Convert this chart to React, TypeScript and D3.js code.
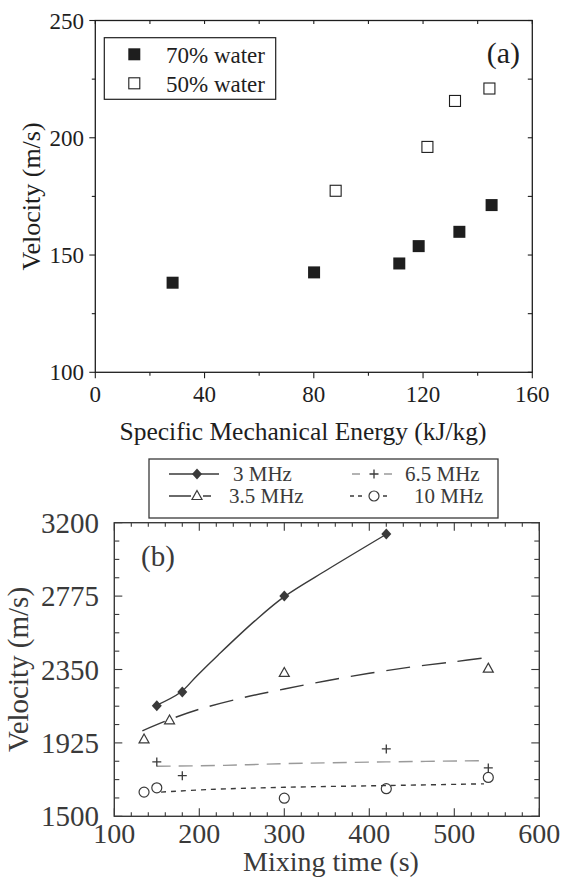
import React from "react";
import * as d3 from "d3";

// panel (a): velocity vs specific mechanical energy
const sme70 = [28.3, 80.1, 111.3, 118.4, 133.3, 145.1];
const vel70 = [138.2, 142.6, 146.4, 153.8, 159.9, 171.3];
const sme50 = [88.0, 121.6, 131.7, 144.3];
const vel50 = [177.4, 196.1, 215.7, 221.0];
const aXTicks = [0, 40, 80, 120, 160];
const aYTicks = [100, 150, 200, 250];

// panel (b): velocity vs mixing time, per frequency
const t3 = [150, 180, 300, 420];
const v3 = [2140, 2220, 2775, 3135];
const t35 = [135, 165, 300, 540];
const v35 = [1945, 2055, 2330, 2355];
const t65 = [150, 180, 420, 540];
const v65 = [1815, 1735, 1890, 1780];
const t10 = [135, 150, 300, 420, 540];
const v10 = [1640, 1665, 1605, 1660, 1725];

// fitted curves
const fit3T = [149, 178, 197, 222, 265, 300, 351, 420];
const fit3V = [2141, 2218, 2313, 2433, 2630, 2772, 2929, 3133];
const fit35T = [133, 165, 200, 250, 300, 350, 400, 450, 500, 540];
const fit35V = [1995, 2060, 2120, 2185, 2237, 2285, 2328, 2365, 2395, 2420];
const fit65T = [150, 230, 300, 420, 535];
const fit65V = [1790, 1795, 1805, 1815, 1822];
const fit10T = [155, 210, 300, 420, 535];
const fit10V = [1640, 1655, 1668, 1678, 1688];

const bXTicks = [100, 200, 300, 400, 500, 600];
const bYTicks = [1500, 1925, 2350, 2775, 3200];

const FONT = "'Liberation Serif', 'Times New Roman', Times, serif";
const INK_A = "#1e1e1e";
const INK_B = "#3a3a3a";

const zip = (xs: number[], ys: number[]) => xs.map((x, i) => [x, ys[i]] as [number, number]);

function PanelA() {
  const x = d3.scaleLinear().domain([0, 160]).range([95.3, 532.3]);
  const y = d3.scaleLinear().domain([100, 250]).range([372.3, 20.5]);
  const [x0, x1] = x.range();
  const [y0, y1] = y.range();
  const minorX = d3.range(0, 161, 20);
  const minorY = d3.range(100, 251, 25);
  const sq = 12;

  return (
    <g fontFamily={FONT} fill={INK_A}>
      <rect x={x0} y={y1} width={x1 - x0} height={y0 - y1} fill="none" stroke={INK_A} strokeWidth={1.3} />
      {minorX.map((v) => {
        const major = aXTicks.includes(v);
        return (
          <g key={"ax" + v} stroke={INK_A} strokeWidth={1.1}>
            <line x1={x(v)} x2={x(v)} y1={y0} y2={y0 + (major ? 6 : 3.5)} />
            <line x1={x(v)} x2={x(v)} y1={y1} y2={y1 + 3.5} />
          </g>
        );
      })}
      {minorY.map((v) => {
        const major = aYTicks.includes(v);
        return (
          <g key={"ay" + v} stroke={INK_A} strokeWidth={1.1}>
            <line x1={x0} x2={x0 - (major ? 6 : 3.5)} y1={y(v)} y2={y(v)} />
            <line x1={x1} x2={x1 - 4.5} y1={y(v)} y2={y(v)} />
          </g>
        );
      })}
      {aXTicks.map((v) => (
        <text key={"axl" + v} x={x(v)} y={401.5} fontSize={23} textAnchor="middle">{v}</text>
      ))}
      {aYTicks.map((v) => (
        <text key={"ayl" + v} x={84} y={y(v) + 8} fontSize={23} textAnchor="end">{v}</text>
      ))}
      <text x={303} y={440} fontSize={25.5} textAnchor="middle">Specific Mechanical Energy (kJ/kg)</text>
      <text transform={`translate(40,${(y0 + y1) / 2}) rotate(-90)`} fontSize={26} textAnchor="middle">Velocity (m/s)</text>
      <text x={520} y={63} fontSize={30} textAnchor="end">(a)</text>

      {zip(sme70, vel70).map(([a, b], i) => (
        <rect key={"f" + i} x={x(a) - sq / 2} y={y(b) - sq / 2} width={sq} height={sq} fill={INK_A} />
      ))}
      {zip(sme50, vel50).map(([a, b], i) => (
        <rect key={"o" + i} x={x(a) - sq / 2 + 0.5} y={y(b) - sq / 2 + 0.5} width={sq - 1} height={sq - 1} fill="#fff" stroke={INK_A} strokeWidth={1.1} />
      ))}

      <rect x={104.3} y={37.7} width={171.4} height={61.6} fill="#fff" stroke={INK_A} strokeWidth={1.2} />
      <rect x={134.3 - sq / 2} y={54.3 - sq / 2} width={sq} height={sq} fill={INK_A} />
      <rect x={134.3 - sq / 2 + 0.5} y={83.3 - sq / 2 + 0.5} width={sq - 1} height={sq - 1} fill="#fff" stroke={INK_A} strokeWidth={1.1} />
      <text x={166} y={62.5} fontSize={23}>70% water</text>
      <text x={166} y={91.5} fontSize={23}>50% water</text>
    </g>
  );
}

function Marker({ kind, cx, cy }: { kind: string; cx: number; cy: number }) {
  if (kind === "diamond") {
    return <path d={`M${cx},${cy - 5.5}L${cx + 5},${cy}L${cx},${cy + 5.5}L${cx - 5},${cy}Z`} fill={INK_B} />;
  }
  if (kind === "triangle") {
    return <path d={`M${cx},${cy - 5.5}L${cx + 5},${cy + 3.5}L${cx - 5},${cy + 3.5}Z`} fill="#fff" stroke={INK_B} strokeWidth={1.2} />;
  }
  if (kind === "plus") {
    return <path d={`M${cx - 4.5},${cy}H${cx + 4.5}M${cx},${cy - 4.5}V${cy + 4.5}`} stroke={INK_B} strokeWidth={1.3} fill="none" />;
  }
  return <circle cx={cx} cy={cy} r={5} fill="#fff" fillOpacity={0} stroke={INK_B} strokeWidth={1.2} />;
}

function PanelB() {
  const x = d3.scaleLinear().domain([100, 600]).range([114.3, 539.3]);
  const y = d3.scaleLinear().domain([1500, 3200]).range([816.3, 522.7]);
  const [x0, x1] = x.range();
  const [y0, y1] = y.range();
  const line = d3
    .line<[number, number]>()
    .x((d) => x(d[0]))
    .y((d) => y(d[1]))
    .curve(d3.curveCatmullRom.alpha(0.5));
  const minorX = d3.range(100, 601, 20);
  const minorY = d3.range(0, 17).map((i) => 1500 + i * 106.25);

  const series = [
    { label: "3 MHz", kind: "diamond", t: t3, v: v3, ft: fit3T, fv: fit3V, dash: "none", legDash: "none", color: INK_B },
    { label: "3.5 MHz", kind: "triangle", t: t35, v: v35, ft: fit35T, fv: fit35V, dash: "24,12", legDash: "22,12,8,100", color: INK_B },
    { label: "6.5 MHz", kind: "plus", t: t65, v: v65, ft: fit65T, fv: fit65V, dash: "14,8", legDash: "0,6,8,24,8,100", color: "#9a9a9a" },
    { label: "10 MHz", kind: "circle", t: t10, v: v10, ft: fit10T, fv: fit10V, dash: "5,5", legDash: "0,4,4,4,4,21,4,100", color: INK_B },
  ];

  const legendPos = [
    { lx: 169, tx: 233, ty: 481 },
    { lx: 169, tx: 229, ty: 503 },
    { lx: 346, tx: 405, ty: 481 },
    { lx: 346, tx: 414, ty: 503 },
  ];

  return (
    <g fontFamily={FONT} fill={INK_B}>
      <rect x={x0} y={y1} width={x1 - x0} height={y0 - y1} fill="none" stroke={INK_B} strokeWidth={1.4} />
      {minorX.map((v) => {
        const major = bXTicks.includes(v);
        const len = major ? 8 : 4;
        return (
          <g key={"bx" + v} stroke={INK_B} strokeWidth={1.1}>
            <line x1={x(v)} x2={x(v)} y1={y0} y2={y0 - len} />
            <line x1={x(v)} x2={x(v)} y1={y1} y2={y1 + len} />
          </g>
        );
      })}
      {minorY.map((v, i) => {
        const len = i % 4 === 0 ? 8 : 5;
        return (
          <g key={"by" + i} stroke={INK_B} strokeWidth={1.1}>
            <line x1={x0} x2={x0 + len} y1={y(v)} y2={y(v)} />
            <line x1={x1} x2={x1 - len} y1={y(v)} y2={y(v)} />
          </g>
        );
      })}
      {bXTicks.map((v) => (
        <text key={"bxl" + v} x={x(v)} y={843} fontSize={28} textAnchor="middle">{v}</text>
      ))}
      {bYTicks.map((v) => (
        <text key={"byl" + v} x={99} y={y(v) + 10} fontSize={29} textAnchor="end">{v}</text>
      ))}
      <text x={331} y={871} fontSize={28} textAnchor="middle">Mixing time (s)</text>
      <text transform={`translate(28,${(y0 + y1) / 2}) rotate(-90)`} fontSize={29} textAnchor="middle">Velocity (m/s)</text>
      <text x={141} y={566} fontSize={29}>(b)</text>

      {series.map((s) => (
        <path key={"fit" + s.label} d={line(zip(s.ft, s.fv)) || ""} fill="none" stroke={s.color} strokeWidth={1.4} strokeDasharray={s.dash} />
      ))}
      {series.map((s) =>
        zip(s.t, s.v).map(([a, b], i) => <Marker key={s.label + i} kind={s.kind} cx={x(a)} cy={y(b)} />)
      )}

      <rect x={149} y={459} width={349} height={59} fill="#fff" stroke={INK_B} strokeWidth={1.3} />
      {series.map((s, i) => {
        const p = legendPos[i];
        const cy = p.ty - 7;
        return (
          <g key={"lg" + s.label}>
            <line x1={p.lx} x2={p.lx + 50} y1={cy} y2={cy} stroke={s.color} strokeWidth={1.4} strokeDasharray={s.legDash} />
            <Marker kind={s.kind} cx={p.lx + 28} cy={cy} />
            <text x={p.tx} y={p.ty} fontSize={21}>{s.label}</text>
          </g>
        );
      })}
    </g>
  );
}

export default function App() {
  return (
    <svg width={572} height={877} style={{ position: "absolute", left: 0, top: 0, background: "#fff" }}>
      <PanelA />
      <PanelB />
    </svg>
  );
}
